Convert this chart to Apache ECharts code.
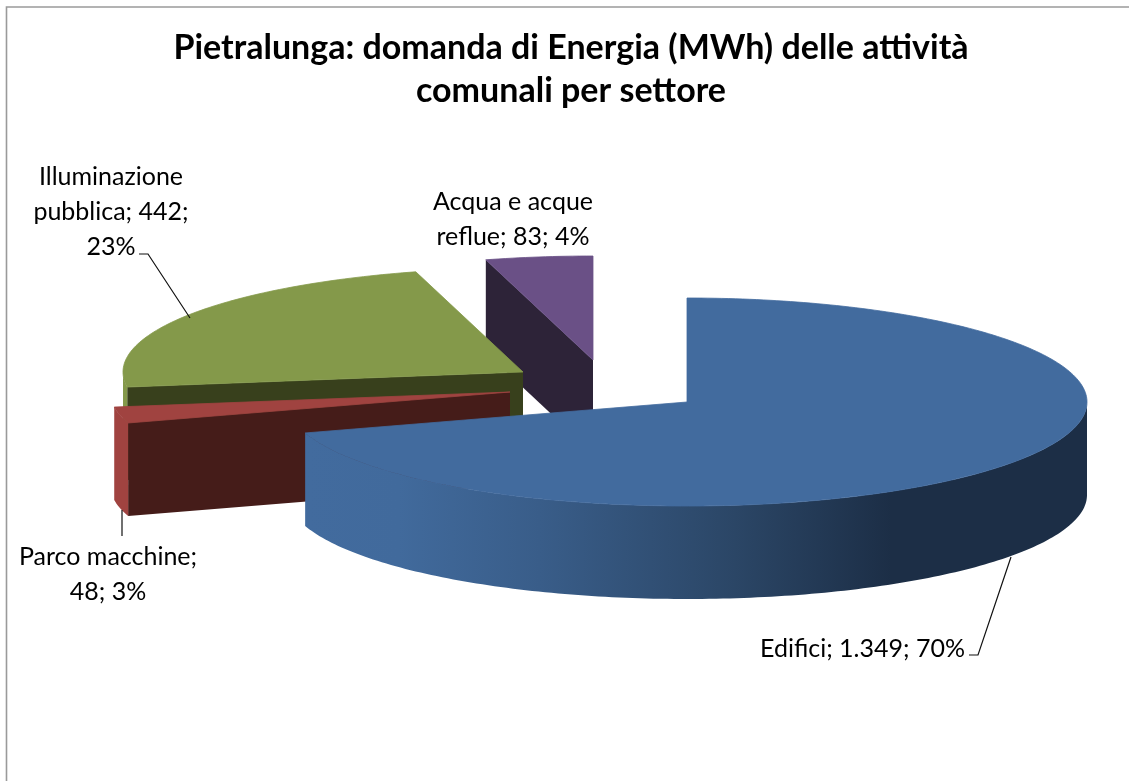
<!DOCTYPE html>
<html>
<head>
<meta charset="utf-8">
<style>html,body{margin:0;padding:0;background:#fff}#c{width:1129px;height:781px}</style>
<script src="https://cdn.jsdelivr.net/npm/echarts@6/dist/echarts.min.js"></script>
</head>
<body>
<div id="c"></div>
<script>
// --- data ---
var titleText = 'Pietralunga: domanda di Energia (MWh) delle attività\ncomunali per settore';
var categories = ['Edifici', 'Parco macchine', 'Illuminazione pubblica', 'Acqua e acque reflue'];
var values = [1349, 48, 442, 83];
var labelTexts = ['Edifici; 1.349; 70%', 'Parco macchine;\n48; 3%', 'Illuminazione\npubblica; 442;\n23%', 'Acqua e acque\nreflue; 83; 4%'];

// --- presentation ---
var topColors = ['#426b9e', '#a04340', '#84994a', '#6a5086'];
var cutColors = ['#1c2e46', '#451c19', '#38401c', '#2d2338'];
var rx = 400, ry = 104, depth = 93;
var centres = [[687, 402], [510, 392], [523, 372], [593, 360]];   // exploded apex of each slice
var labelAnchors = [[965, 631, 'right'], [108, 539, 'center'], [111, 159, 'center'], [513, 184, 'center']]; // top of first line
var leaders = [
  [[969, 655], [978, 655], [1011, 557]],
  [[122, 510], [122, 536]],
  [[139, 254], [148, 254], [190, 318]],
  null
];
var FONT = 'Lato, Carlito, "Open Sans", sans-serif';
var total = values.reduce(function (a, b) { return a + b; }, 0);
var wallGradient = new echarts.graphic.LinearGradient(0, 0, 1, 0, [
  { offset: 0, color: '#426b9e' }, { offset: 0.12, color: '#416a9c' }, { offset: 0.3, color: '#395d89' },
  { offset: 0.55, color: '#2b4666' }, { offset: 0.75, color: '#1c2e46' }, { offset: 1, color: '#1c2e46' }
]);

function arc(c, a0, a1, dy) {
  var pts = [], n = Math.max(2, Math.ceil(Math.abs(a1 - a0)));
  for (var k = 0; k <= n; k++) {
    var t = (a0 + (a1 - a0) * k / n) * Math.PI / 180;
    pts.push([c[0] + rx * Math.sin(t), c[1] - ry * Math.cos(t) + dy]);
  }
  return pts;
}

function renderSlice(params, api) {
  var i = params.dataIndex, before = 0;
  for (var j = 0; j < i; j++) before += values[j];
  var a0 = before / total * 360, a1 = (before + api.value(0)) / total * 360;
  var c = centres[i], z = (values.length - i) * 10, kids = [];
  var s = [c[0] + rx * Math.sin(a0 * Math.PI / 180), c[1] - ry * Math.cos(a0 * Math.PI / 180)];
  // cut face at the slice's starting edge
  kids.push({ type: 'polygon', z2: z, shape: { points: [c, s, [s[0], s[1] + depth], [c[0], c[1] + depth]] }, style: { fill: cutColors[i] } });
  // outer wall: only the front half of the ellipse
  var w0 = Math.max(a0, 90), w1 = Math.min(a1, 270);
  if (w1 > w0) {
    var wall = arc(c, w0, w1, 0).concat(arc(c, w0, w1, depth).reverse());
    kids.push({ type: 'polygon', z2: z + 1, shape: { points: wall }, style: { fill: i === 0 ? wallGradient : topColors[i] } });
  }
  // top face
  kids.push({ type: 'polygon', z2: z + 2, shape: { points: [c].concat(arc(c, a0, a1, 0)) }, style: { fill: topColors[i], stroke: topColors[i], lineWidth: 0.8 } });
  // leader line and data label
  if (leaders[i]) kids.push({ type: 'polyline', z2: 100, shape: { points: leaders[i] }, style: { fill: 'none', stroke: '#111', lineWidth: 1.2 } });
  var la = labelAnchors[i];
  kids.push({ type: 'text', z2: 101, style: { text: labelTexts[i], x: la[0], y: la[1], align: la[2], verticalAlign: 'top', font: '25px ' + FONT, lineHeight: 35, fill: '#000' } });
  return { type: 'group', children: kids };
}

var chart = echarts.init(document.getElementById('c'));
chart.setOption({
  animation: false,
  backgroundColor: '#fff',
  title: {
    text: titleText, left: 566, top: 22, textAlign: 'center',
    textStyle: { fontFamily: FONT, fontWeight: 'bold', fontSize: 34, lineHeight: 43, color: '#000' }
  },
  graphic: [{
    type: 'polyline', silent: true,
    shape: { points: [[6.5, 781], [6.5, 7], [1129, 7]] },
    style: { fill: 'none', stroke: '#9a9a9a', lineWidth: 1.6 }
  }],
  series: [{
    type: 'custom', coordinateSystem: 'none', renderItem: renderSlice, clip: false,
    data: categories.map(function (n, i) { return { name: n, value: [values[i]] }; })
  }]
});
</script>
</body>
</html>
